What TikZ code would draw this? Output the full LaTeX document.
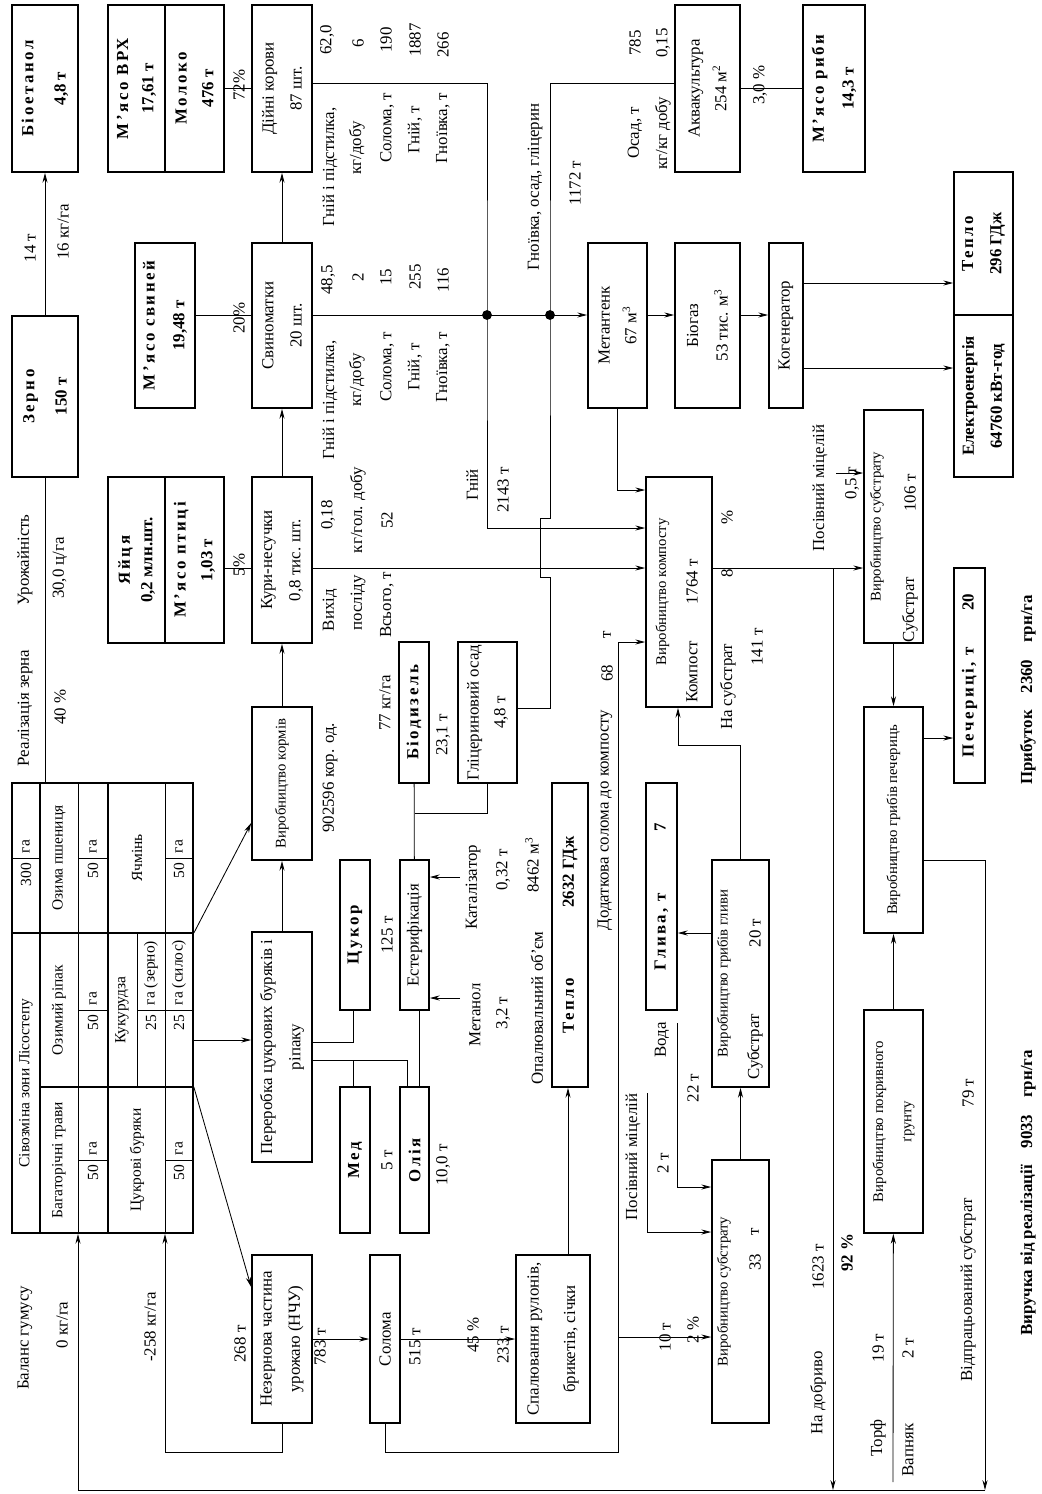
\documentclass[tikz,border=0pt]{standalone}
\usepackage{fontspec}
\setmainfont{Liberation Serif}
\newfontfamily\spfont[LetterSpace=15]{Liberation Serif}
\newcommand\spc[1]{{\spfont\bfseries #1}}
\usetikzlibrary{arrows.meta}
\tikzset{>={Stealth[length=7pt, width=3.6pt]},
  box/.style={draw, line width=1.2pt, rotate=90, align=center, inner sep=1pt, font=\fontsize{12}{20}\selectfont},
  sbox/.style={box, font=\fontsize{10.5}{20}\selectfont},
  wh/.style 2 args={minimum width=#1*0.025cm, minimum height=#2*0.025cm},
  lbl/.style={rotate=90, inner sep=1pt, font=\fontsize{12}{14}\selectfont},
  tlbl/.style={lbl, font=\fontsize{11}{13}\selectfont},
  con/.style={line width=0.6pt}}

\begin{document}
\begin{tikzpicture}[x=0.025cm, y=-0.025cm, con]
    \useasboundingbox (0,0) rectangle (1041,1494);
    % products and animals
    \node[box, wh={167}{66}] (bioet) at (45,88.5) {\spc{Біоетанол}\\[3pt]\textbf{4,8 т}};
    \node[box, wh={161}{66}] (zerno) at (45,396.5) {\spc{Зерно}\\[3pt]\textbf{150 т}};
    \node[box, wh={167}{57}] (vrh) at (136.5,88.5) {\spc{М’ясо ВРХ}\\[-2pt]\textbf{17,61 т}};
    \node[box, wh={167}{59}] (mol) at (194.5,88.5) {\spc{Молоко}\\[-1pt]\textbf{476 т}};
    \node[box, wh={165}{60}] (svm) at (165,325.5) {\spc{М’ясо свиней}\\[1pt]\textbf{19,48 т}};
    \node[box, wh={166}{57}] (yaj) at (136.5,560) {\spc{Яйця}\\[-4pt]\textbf{0,2 млн.шт.}};
    \node[box, wh={166}{59}] (ptc) at (194.5,560) {\spc{М’ясо птиці}\\[-1pt]\textbf{1,03 т}};
    \node[box, wh={167}{60}] (kor) at (282,88.5) {Дійні корови\\87 шт.};
    \node[box, wh={165}{60}] (svn) at (282,325.5) {Свиноматки\\20 шт.};
    \node[box, wh={166}{60}] (kur) at (282,560) {Кури-несучки\\0,8 тис. шт.};
    \node[sbox, wh={153}{60}] (korm) at (282,783.5) {Виробництво кормів};
    \node[box, wh={230}{60}] (pererob) at (282,1047) {Переробка цукрових буряків і\\ріпаку};
    \node[box, wh={168}{60}] (nchu) at (282,1339) {Незернова частина\\урожаю (НЧУ)};
    % processing
    \node[box, wh={150}{30}] (tsuk) at (355,935) {\spc{Цукор}};
    \node[box, wh={146}{30}] (med) at (355,1160) {\spc{Мед}};
    \node[box, wh={150}{29}] (estr) at (414.5,935) {Естерифікація};
    \node[box, wh={146}{29}] (olia) at (414.5,1160) {\spc{Олія}};
    \node[box, wh={141}{30}] (biod) at (414,712.5) {\spc{Біодизель}};
    \node[box, wh={141}{59}] (glic) at (487.5,712.5) {Гліцериновий осад\\[-1pt]4,8 т};
    \node[box, wh={168}{30}] (sol) at (385,1339) {Солома};
    \node[box, wh={168}{74}] (spal) at (553,1339) {Спалювання рулонів,\\[6pt]брикетів, січки};
    \node[box, wh={304}{36}] (teplo2) at (570,935) {\spc{Тепло}\hspace{4em}\textbf{2632 ГДж}};
    \node[box, wh={227}{31}] (glyva) at (661.5,896.5) {\spc{Глива, т}\hspace{3.5em}\textbf{7}};
    \node[sbox, wh={227}{57}] (vglyv) at (740.5,973.5) {Виробництво грибів гливи\\\strut};
    \node[sbox, wh={263}{57}] (vsub33) at (740.5,1291.5) {Виробництво субстрату\\\strut};
    \node[sbox, wh={230}{66}] (komp) at (679,592) {Виробництво компосту\\\strut};
    \node[box, wh={165}{59}] (metan) at (617.5,325.5) {Метантенк\\[-1pt]67 м\textsuperscript{3}};
    \node[box, wh={165}{65}] (biogaz) at (707.5,325.5) {Біогаз\\[1pt]53 тис. м\textsuperscript{3}};
    \node[box, wh={167}{65}] (akva) at (707.5,88.5) {Аквакультура\\[-1pt]254 м\textsuperscript{2}};
    \node[box, wh={167}{62}] (ryba) at (834,88.5) {\spc{М’ясо риби}\\[1pt]\textbf{14,3 т}};
    \node[box, wh={165}{34}] (kogen) at (786,325.5) {Когенератор};
    \node[box, wh={143}{59}] (tep) at (983.5,243.5) {\spc{Тепло}\\\textbf{296 ГДж}};
    \node[box, wh={162}{59}] (el) at (983.5,396) {\textbf{Електроенергія}\\\textbf{64760 кВт-год}};
    \node[sbox, wh={233}{59}] (vsub106) at (893.5,526.5) {Виробництво субстрату\\\strut};
    \node[sbox, wh={226}{59}] (pech) at (893.5,820) {Виробництво грибів печериць};
    \node[box, wh={215}{31}] (pechr) at (969.5,675.5) {\spc{Печериці, т}\hspace{2em}\textbf{20}};
    \node[sbox, wh={223}{59}] (pokr) at (893.5,1121.5) {Виробництво покривного\\ґрунту};
    % crop rotation table
    \node[box, wh={450}{181}] (fld) at (102.5,1008) {};
    \draw[line width=1.2pt] (40,783) -- (40,1233) (108,783) -- (108,1233)
        (12,933) -- (193,933) (40,1087) -- (193,1087);
    \draw (78,783) -- (78,1233) (165,783) -- (165,1233) (137,933) -- (137,1087);
    \draw (12,858) -- (40,858) (78,858) -- (108,858) (165,858) -- (193,858)
        (78,1010) -- (108,1010) (137,1010) -- (193,1010)
        (78,1160) -- (108,1160) (165,1160) -- (193,1160);
    \node[tlbl] (fh) at (26,1083) {Сівозміна зони Лісостепу};
    \node[tlbl, anchor=east] (fh1) at (26,861) {300};
    \node[tlbl, anchor=west] (fh2) at (26,855) {га};
    \node[tlbl] (fc1) at (59,1160) {Багаторічні трави};
    \node[tlbl] (fc2) at (59,1010) {Озимий ріпак};
    \node[tlbl] (fc3) at (59,858) {Озима пшениця};
    \node[tlbl] (fc4) at (137,1160) {Цукрові буряки};
    \node[tlbl] (fc5) at (122,1010) {Кукурудза};
    \node[tlbl] (fc6) at (137,858) {Ячмінь};
    \foreach \r/\s/\n/\u [count=\i] in {93/858/50/га, 93/1010/50/га, 93/1160/50/га,
        179/858/50/га, 179/1160/50/га, 151/1010/25/га (зерно), 179/1010/25/га (силос)} {
        \node[tlbl, anchor=east] (fn\i) at (\r,\s+3) {\n};
        \node[tlbl, anchor=west] (fu\i) at (\r,\s-3) {\u};
    }
    % labels
    \node[lbl] (l14) at (30,248) {14 т};
    \node[lbl] (l16) at (63,232) {16 кг/га};
    \node[lbl] (lur) at (25,560) {Урожайність};
    \node[lbl] (lurv) at (60,568) {30,0 ц/га};
    \node[lbl] (lre) at (25,708) {Реалізація зерна};
    \node[lbl] (lrev) at (60,707) {40 \%};
    \node[lbl] (p72) at (239,85) {72\%};
    \node[lbl] (p20) at (239,318) {20\%};
    \node[lbl] (p5) at (239,565) {5\%};
    \node[lbl] (ka1) at (330,167) {Гній і підстилка,};
    \node[lbl] (ka2) at (357,148) {кг/добу};
    \node[lbl] (ka3) at (387,128) {Солома, т};
    \node[lbl] (ka4) at (415,130) {Гній, т};
    \node[lbl] (ka5) at (443,128) {Гноївка, т};
    \node[lbl] (kv1) at (327,40) {62,0};
    \node[lbl] (kv2) at (358,43) {6};
    \node[lbl] (kv3) at (386,40) {190};
    \node[lbl] (kv4) at (415,40) {1887};
    \node[lbl] (kv5) at (443,45) {266};
    \node[lbl] (sa1) at (330,400) {Гній і підстилка,};
    \node[lbl] (sa2) at (357,380) {кг/добу};
    \node[lbl] (sa3) at (387,367) {Солома, т};
    \node[lbl] (sa4) at (415,367) {Гній, т};
    \node[lbl] (sa5) at (443,367) {Гноївка, т};
    \node[lbl] (sv1) at (328,280) {48,5};
    \node[lbl] (sv2) at (358,277) {2};
    \node[lbl] (sv3) at (386,277) {15};
    \node[lbl] (sv4) at (415,277) {255};
    \node[lbl] (sv5) at (443,280) {116};
    \node[lbl] (ha1) at (330,610) {Вихід};
    \node[lbl] (hv1) at (328,515) {0,18};
    \node[lbl] (ha2) at (358,603) {посліду};
    \node[lbl] (hv2) at (358,510) {кг/гол. добу};
    \node[lbl] (ha3) at (387,605) {Всього, т};
    \node[lbl] (hv3) at (387,520) {52};
    \node[lbl] (lkorm) at (330,778) {902596 кор. од.};
    \node[lbl] (l77) at (385,703) {77 кг/га};
    \node[lbl] (l231) at (443,735) {23,1 т};
    \node[lbl] (l125) at (387,935) {125 т};
    \node[lbl] (l5) at (387,1160) {5 т};
    \node[lbl] (l10) at (443,1165) {10,0 т};
    \node[lbl] (lmet) at (475,1015) {Метанол};
    \node[lbl] (lmetv) at (503,1013) {3,2 т};
    \node[lbl] (lkat) at (473,887) {Каталізатор};
    \node[lbl] (lkatv) at (503,870) {0,32 т};
    \node[lbl] (lop) at (537,1008) {Опалювальний об’єм};
    \node[lbl] (lopv) at (532,865) {8462 м\textsuperscript{3}};
    \node[lbl] (lgn) at (472,485) {Гній};
    \node[lbl] (lgnv) at (503,490) {2143 т};
    \node[lbl] (lgo) at (535,187) {Гноївка, осад, гліцерин};
    \node[lbl] (lgov) at (575,183) {1172 т};
    \node[lbl] (los) at (635,133) {Осад, т};
    \node[lbl] (losv) at (635,43) {785};
    \node[lbl] (lkk) at (663,133) {кг/кг добу};
    \node[lbl] (lkkv) at (663,43) {0,15};
    \node[lbl] (l30) at (760,85) {3,0 \%};
    \node[lbl] (ldod) at (605,820) {Додаткова солома до компосту};
    \node[lbl] (l68) at (607,673) {68};
    \node[lbl] (l68t) at (607,635) {т};
    \node[lbl] (l8) at (727,573) {8};
    \node[lbl] (l8p) at (727,517) {\%};
    \node[lbl] (lns) at (728,687) {На субстрат};
    \node[lbl] (lnsv) at (757,647) {141 т};
    \node[lbl] (lpm) at (820,488) {Посівний міцелій};
    \node[lbl] (lpmv) at (852,483) {0,5 т};
    \node[lbl] (lsub) at (910,610) {Субстрат};
    \node[lbl] (lsubv) at (910,493) {106 т};
    \node[lbl] (lkomp) at (692,672) {Компост};
    \node[lbl] (lkompv) at (692,582) {1764 т};
    \node[lbl] (lgs) at (755,1047) {Субстрат};
    \node[lbl] (lgsv) at (755,933) {20 т};
    \node[lbl] (l33) at (755,1262) {33};
    \node[lbl] (l33t) at (755,1232) {т};
    \node[lbl] (l268) at (240,1344) {268 т};
    \node[lbl] (l783) at (320,1347) {783 т};
    \node[lbl] (l515) at (415,1347) {515 т};
    \node[lbl] (l45) at (473,1335) {45 \%};
    \node[lbl] (l233) at (503,1345) {233 т};
    \node[lbl] (lbal) at (25,1338) {Баланс гумусу};
    \node[lbl] (lbal0) at (62,1325) {0 кг/га};
    \node[lbl] (lbal2) at (150,1327) {-258 кг/га};
    \node[lbl] (l10t) at (665,1337) {10 т};
    \node[lbl] (l2p) at (693,1330) {2 \%};
    \node[lbl] (lpm2) at (633,1157) {Посівний міцелій};
    \node[lbl] (lpm2v) at (663,1163) {2 т};
    \node[lbl] (lvoda) at (662,1040) {Вода};
    \node[lbl] (lvodav) at (693,1088) {22 т};
    \node[lbl] (lnd) at (818,1393) {На добриво};
    \node[lbl] (lndv) at (818,1267) {1623 т};
    \node[lbl] (l92) at (847,1253) {\textbf{92 \%}};
    \node[lbl] (ltorf) at (878,1438) {Торф};
    \node[lbl] (lvap) at (908,1450) {Вапняк};
    \node[lbl] (ltorfv) at (878,1348) {19 т};
    \node[lbl] (lvapv) at (908,1348) {2 т};
    \node[lbl] (lvids) at (968,1290) {Відпрацьований субстрат};
    \node[lbl] (lvidsv) at (968,1093) {79 т};
    \node[lbl] (lprib) at (1028,690) {\textbf{Прибуток\quad 2360\quad грн/га}};
    \node[lbl] (lvyr) at (1028,1193) {\textbf{Виручка від реалізації\quad 9033\quad грн/га}};
    % junctions
    \coordinate (d1) at (487,315);
    \coordinate (d2) at (550,315);
    \coordinate (s1) at (618,1452);
    \coordinate (ret) at (985,1490);
    \coordinate (dob) at (833,1490);
    \coordinate (m1) at (647,1093);
    \coordinate (w1) at (677,1023);
    \coordinate (m2) at (836,473);
    \coordinate (torf) at (893,1482);
    \coordinate (met) at (460,998);
    \coordinate (kat) at (460,877);
    % connectors
    \draw[->] (zerno) -- (bioet);
    \draw (zerno) -- (zerno |- fld.east);
    \draw[->] (fld.south |- 0,933) -- (korm.north |- 0,823);
    \draw[->] (fld.south |- 0,1040) -- (pererob.north |- 0,1040);
    \draw[->] (fld.south |- 0,1087) -- (nchu.north |- 0,1287);
    \draw[->] (nchu.west) -- (nchu.west |- 0,1452) -| (fld.west -| 165,0);
    \draw[->] (ret) -| (fld.west -| 78,0);
    \draw[->] (nchu) -- (sol);
    \draw[->] (sol) -- (spal);
    \draw[->] (spal.east -| 568,0) -- (teplo2.west -| 568,0);
    \draw[->] (sol.west) |- (s1) |- (komp.north |- 0,642);
    \draw[->] (s1 |- 0,1337) -- (vsub33.north |- 0,1337);
    \draw[->] (pererob) -- (korm);
    \draw[->] (korm) -- (kur);
    \draw[->] (kur) -- (svn);
    \draw[->] (svn) -- (kor);
    \draw (kor) -- (mol);
    \draw (svn.north |- 0,315) -- (svm.south |- 0,315);
    \draw (kur.north |- 0,568) -- (ptc.south |- 0,568);
    \draw (pererob.south |- 0,1042) -| (tsuk.west -| 353,0);
    \draw (pererob.south |- 0,1060) -| (olia.east -| 407,0);
    \draw (med.east -| 353,0) -- (353,1060);
    \draw (estr) -- (biod);
    \draw (estr.east |- 0,813) -| (glic.west);
    \draw (estr.west -| 419,0) -- (olia.east -| 419,0);
    \draw[->] (met) -- (estr.south |- met);
    \draw[->] (kat) -- (estr.south |- kat);
    \draw[->] (kor.south |- 0,83) -| (d1) -- (d1 |- 0,528) -- (komp.north |- 0,528);
    \draw[->] (svn.south |- 0,315) -- (metan.north |- 0,315);
    \draw[->] (kur.south |- 0,568) -- (komp.north |- 0,568);
    \draw (akva.north |- 0,83) -| (d2) -- (550,518) -- (540,518) -- (540,577) -- (550,577) |- (glic.south |- 0,708);
    \fill (d1) circle (3.5pt) (d2) circle (3.5pt);
    \draw[->] (metan.south |- 0,315) -- (biogaz.north |- 0,315);
    \draw[->] (biogaz.south |- 0,315) -- (kogen.north |- 0,315);
    \draw[->] (kogen.south |- 0,283) -- (tep.north |- 0,283);
    \draw[->] (kogen.south |- 0,368) -- (el.north |- 0,368);
    \draw[->] (metan.west) |- (komp.north |- 0,490);
    \draw (akva) -- (ryba);
    \draw[->] (vglyv.east) -- (vglyv.east |- 0,745) -| (komp.west -| 678,0);
    \draw[->] (vglyv.north |- 0,933) -- (glyva.south |- 0,933);
    \draw[->] (vsub33) -- (vglyv);
    \draw[->] (m1) |- (vsub33.north |- 0,1232);
    \draw[->] (w1) |- (vsub33.north |- 0,1187);
    \draw[->] (komp.south |- 0,568) -- (vsub106.north |- 0,568);
    \draw[->] (dob |- 0,568) -- (dob);
    \draw[->] (m2) -- (vsub106.north |- m2);
    \draw[->] (vsub106) -- (pech);
    \draw[->] (pech.south |- 0,738) -- (pechr.north |- 0,738);
    \draw[->] (pech.south |- 0,860) -| (ret);
    \draw[->] (pokr) -- (pech);
    \draw[->] (torf) -- (pokr);
\end{tikzpicture}
\end{document}
